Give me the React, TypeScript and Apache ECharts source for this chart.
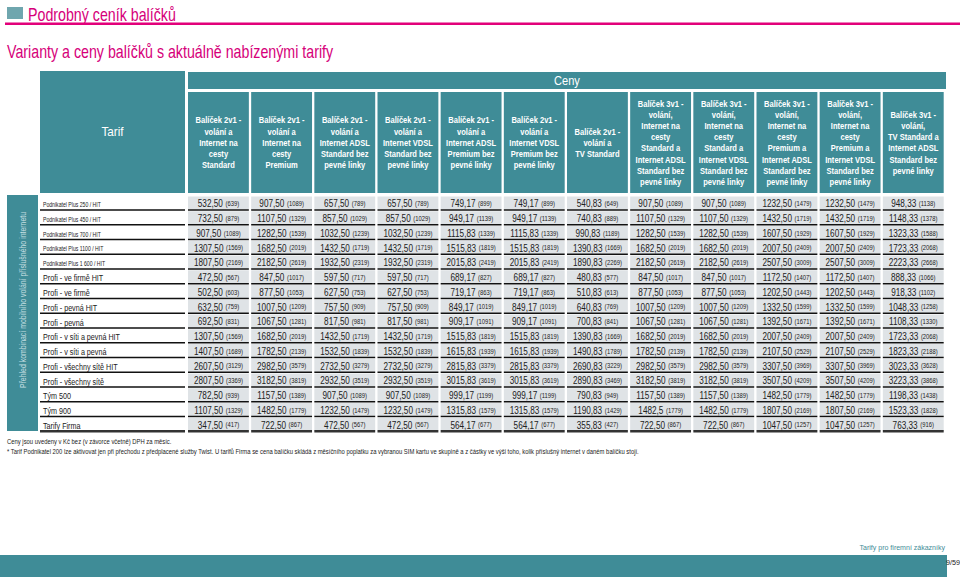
import React, { useEffect, useRef } from "react";
import * as echarts from "echarts";

const FONT = "'Liberation Sans', Arial, sans-serif";
const TEAL = "#3f8c97";
const MAGENTA = "#d6007a";

const columnHeaders = [
  "Balíček 2v1 -\nvolání a\nInternet na\ncesty\nStandard",
  "Balíček 2v1 -\nvolání a\nInternet na\ncesty\nPremium",
  "Balíček 2v1 -\nvolání a\nInternet ADSL\nStandard bez\npevné linky",
  "Balíček 2v1 -\nvolání a\nInternet VDSL\nStandard bez\npevné linky",
  "Balíček 2v1 -\nvolání a\nInternet ADSL\nPremium bez\npevné linky",
  "Balíček 2v1 -\nvolání a\nInternet VDSL\nPremium bez\npevné linky",
  "Balíček 2v1 -\nvolání a\nTV Standard",
  "Balíček 3v1 -\nvolání,\nInternet na\ncesty\nStandard a\nInternet ADSL\nStandard bez\npevné linky",
  "Balíček 3v1 -\nvolání,\nInternet na\ncesty\nStandard a\nInternet VDSL\nStandard bez\npevné linky",
  "Balíček 3v1 -\nvolání,\nInternet na\ncesty\nPremium a\nInternet ADSL\nStandard bez\npevné linky",
  "Balíček 3v1 -\nvolání,\nInternet na\ncesty\nPremium a\nInternet VDSL\nStandard bez\npevné linky",
  "Balíček 3v1 -\nvolání,\nTV Standard a\nInternet ADSL\nStandard bez\npevné linky",
];

const tariffs = [
  "Podnikatel Plus 250 / HIT",
  "Podnikatel Plus 450 / HIT",
  "Podnikatel Plus 700 / HIT",
  "Podnikatel Plus 1100 / HIT",
  "Podnikatel Plus 1 600 / HIT",
  "Profi - ve firmě HIT",
  "Profi - ve firmě",
  "Profi - pevná HIT",
  "Profi - pevná",
  "Profi - v síti a pevná HIT",
  "Profi - v síti a pevná",
  "Profi - všechny sítě HIT",
  "Profi - všechny sítě",
  "Tým 500",
  "Tým 900",
  "Tarify Firma",
];

// net prices (bez DPH) as printed, per tariff row
const netPodnikatel250 = ["532,50", "907,50", "657,50", "657,50", "749,17", "749,17", "540,83", "907,50", "907,50", "1232,50", "1232,50", "948,33"];
const netPodnikatel450 = ["732,50", "1107,50", "857,50", "857,50", "949,17", "949,17", "740,83", "1107,50", "1107,50", "1432,50", "1432,50", "1148,33"];
const netPodnikatel700 = ["907,50", "1282,50", "1032,50", "1032,50", "1115,83", "1115,83", "990,83", "1282,50", "1282,50", "1607,50", "1607,50", "1323,33"];
const netPodnikatel1100 = ["1307,50", "1682,50", "1432,50", "1432,50", "1515,83", "1515,83", "1390,83", "1682,50", "1682,50", "2007,50", "2007,50", "1723,33"];
const netPodnikatel1600 = ["1807,50", "2182,50", "1932,50", "1932,50", "2015,83", "2015,83", "1890,83", "2182,50", "2182,50", "2507,50", "2507,50", "2223,33"];
const netFirmaHit = ["472,50", "847,50", "597,50", "597,50", "689,17", "689,17", "480,83", "847,50", "847,50", "1172,50", "1172,50", "888,33"];
const netFirma = ["502,50", "877,50", "627,50", "627,50", "719,17", "719,17", "510,83", "877,50", "877,50", "1202,50", "1202,50", "918,33"];
const netPevnaHit = ["632,50", "1007,50", "757,50", "757,50", "849,17", "849,17", "640,83", "1007,50", "1007,50", "1332,50", "1332,50", "1048,33"];
const netPevna = ["692,50", "1067,50", "817,50", "817,50", "909,17", "909,17", "700,83", "1067,50", "1067,50", "1392,50", "1392,50", "1108,33"];
const netSitPevnaHit = ["1307,50", "1682,50", "1432,50", "1432,50", "1515,83", "1515,83", "1390,83", "1682,50", "1682,50", "2007,50", "2007,50", "1723,33"];
const netSitPevna = ["1407,50", "1782,50", "1532,50", "1532,50", "1615,83", "1615,83", "1490,83", "1782,50", "1782,50", "2107,50", "2107,50", "1823,33"];
const netVsechnyHit = ["2607,50", "2982,50", "2732,50", "2732,50", "2815,83", "2815,83", "2690,83", "2982,50", "2982,50", "3307,50", "3307,50", "3023,33"];
const netVsechny = ["2807,50", "3182,50", "2932,50", "2932,50", "3015,83", "3015,83", "2890,83", "3182,50", "3182,50", "3507,50", "3507,50", "3223,33"];
const netTym500 = ["782,50", "1157,50", "907,50", "907,50", "999,17", "999,17", "790,83", "1157,50", "1157,50", "1482,50", "1482,50", "1198,33"];
const netTym900 = ["1107,50", "1482,50", "1232,50", "1232,50", "1315,83", "1315,83", "1190,83", "1482,5", "1482,50", "1807,50", "1807,50", "1523,33"];
const netTarifyFirma = ["347,50", "722,50", "472,50", "472,50", "564,17", "564,17", "355,83", "722,50", "722,50", "1047,50", "1047,50", "763,33"];

// gross prices (s DPH), per tariff row
const grossPodnikatel250 = [639, 1089, 789, 789, 899, 899, 649, 1089, 1089, 1479, 1479, 1138];
const grossPodnikatel450 = [879, 1329, 1029, 1029, 1139, 1139, 889, 1329, 1329, 1719, 1719, 1378];
const grossPodnikatel700 = [1089, 1539, 1239, 1239, 1339, 1339, 1189, 1539, 1539, 1929, 1929, 1588];
const grossPodnikatel1100 = [1569, 2019, 1719, 1719, 1819, 1819, 1669, 2019, 2019, 2409, 2409, 2068];
const grossPodnikatel1600 = [2169, 2619, 2319, 2319, 2419, 2419, 2269, 2619, 2619, 3009, 3009, 2668];
const grossFirmaHit = [567, 1017, 717, 717, 827, 827, 577, 1017, 1017, 1407, 1407, 1066];
const grossFirma = [603, 1053, 753, 753, 863, 863, 613, 1053, 1053, 1443, 1443, 1102];
const grossPevnaHit = [759, 1209, 909, 909, 1019, 1019, 769, 1209, 1209, 1599, 1599, 1258];
const grossPevna = [831, 1281, 981, 981, 1091, 1091, 841, 1281, 1281, 1671, 1671, 1330];
const grossSitPevnaHit = [1569, 2019, 1719, 1719, 1819, 1819, 1669, 2019, 2019, 2409, 2409, 2068];
const grossSitPevna = [1689, 2139, 1839, 1839, 1939, 1939, 1789, 2139, 2139, 2529, 2529, 2188];
const grossVsechnyHit = [3129, 3579, 3279, 3279, 3379, 3379, 3229, 3579, 3579, 3969, 3969, 3628];
const grossVsechny = [3369, 3819, 3519, 3519, 3619, 3619, 3469, 3819, 3819, 4209, 4209, 3868];
const grossTym500 = [939, 1389, 1089, 1089, 1199, 1199, 949, 1389, 1389, 1779, 1779, 1438];
const grossTym900 = [1329, 1779, 1479, 1479, 1579, 1579, 1429, 1779, 1779, 2169, 2169, 1828];
const grossTarifyFirma = [417, 867, 567, 567, 677, 677, 427, 867, 867, 1257, 1257, 916];

const netRows = [
  netPodnikatel250, netPodnikatel450, netPodnikatel700, netPodnikatel1100, netPodnikatel1600,
  netFirmaHit, netFirma, netPevnaHit, netPevna, netSitPevnaHit, netSitPevna,
  netVsechnyHit, netVsechny, netTym500, netTym900, netTarifyFirma,
];
const grossRows = [
  grossPodnikatel250, grossPodnikatel450, grossPodnikatel700, grossPodnikatel1100, grossPodnikatel1600,
  grossFirmaHit, grossFirma, grossPevnaHit, grossPevna, grossSitPevnaHit, grossSitPevna,
  grossVsechnyHit, grossVsechny, grossTym500, grossTym900, grossTarifyFirma,
];

const footnote1 = "Ceny jsou uvedeny v Kč bez (v závorce včetně) DPH za měsíc.";
const footnote2 =
  "* Tarif Podnikatel 200 lze aktivovat jen při přechodu z předplacené služby Twist. U tarifů Firma se cena balíčku skládá z měsíčního poplatku za vybranou SIM kartu ve skupině a z částky ve výši toho, kolik příslušný internet v daném balíčku stojí.";

export default function App() {
  const ref = useRef<HTMLDivElement>(null);

  useEffect(() => {
    if (!ref.current) return;
    const chart = echarts.init(ref.current, null, { renderer: "svg" });

    const cellData: any[] = [];
    netRows.forEach((row, r) => {
      row.forEach((net, c) => {
        cellData.push([c, r, parseFloat(net.replace(",", ".")), grossRows[r][c], net]);
      });
    });
    const headerData = columnHeaders.map((_, i) => [i, 0]);
    const rowLabelData = tariffs.map((_, i) => [0, i]);
    const lastRow = tariffs.length - 1;

    const txt = (x: number, y: number, text: string, size: number, fill: string, align: string, scale: number, extra: any = {}) => ({
      type: "text",
      x,
      y,
      scaleX: scale,
      ...extra,
      style: { text, fontFamily: FONT, fontSize: size, fill, align, verticalAlign: "middle" },
    });

    const option: any = {
      animation: false,
      backgroundColor: "#ffffff",
      textStyle: { fontFamily: FONT },
      grid: { left: 188, right: 14, top: 196, height: 236 },
      xAxis: {
        type: "category",
        data: columnHeaders,
        show: false,
      },
      yAxis: {
        type: "category",
        data: tariffs,
        inverse: true,
        axisLine: { show: false },
        axisTick: { show: false },
        splitLine: { show: false },
        axisLabel: { show: false },
      },
      graphic: {
        elements: [
          { type: "rect", shape: { x: 7, y: 7, width: 16, height: 12 }, style: { fill: "#6fa6ae" } },
          txt(28, 14, "Podrobný ceník balíčků", 18, MAGENTA, "left", 0.79),
          { type: "rect", shape: { x: 5, y: 22.5, width: 955, height: 2.5 }, style: { fill: "#e2007a" } },
          txt(7, 51, "Varianty a ceny balíčků s aktuálně nabízenými tarify", 18, MAGENTA, "left", 0.79),
          { type: "rect", shape: { x: 40, y: 71, width: 145, height: 122 }, style: { fill: TEAL } },
          txt(112.5, 132, "Tarif", 13, "#ffffff", "center", 0.9),
          { type: "rect", shape: { x: 188, y: 72, width: 758, height: 17 }, style: { fill: TEAL } },
          txt(567, 80.5, "Ceny", 13, "#ffffff", "center", 0.85),
          { type: "rect", shape: { x: 7, y: 195, width: 31, height: 236 }, style: { fill: TEAL } },
          txt(23, 300, "Přehled kombinací mobilního volání příslušného internetu", 9.5, "#c6dfe2", "center", 0.73, { rotation: Math.PI / 2 }),
          txt(7, 441, footnote1, 7, "#222222", "left", 0.84),
          txt(7, 451, footnote2, 7, "#222222", "left", 0.84),
          txt(945, 547, "Tarify pro firemní zákazníky", 8, TEAL, "right", 0.88),
          { type: "rect", shape: { x: 0, y: 555, width: 947, height: 22 }, style: { fill: TEAL } },
          txt(960, 562, "9/59", 8, "#222222", "right", 0.9),
        ],
      },
      series: [
        {
          type: "custom",
          name: "header",
          data: headerData,
          encode: { x: 0, y: 1 },
          silent: true,
          renderItem: (params: any, api: any) => {
            const p = api.coord([api.value(0), 0]);
            const s = api.size([1, 1]);
            const x0 = p[0] - s[0] / 2;
            const w = s[0] - 2.3;
            return {
              type: "group",
              children: [
                { type: "rect", shape: { x: x0, y: 92, width: w, height: 101 }, style: { fill: TEAL } },
                {
                  type: "text",
                  x: x0 + w / 2,
                  y: 142.5,
                  scaleX: 0.84,
                  style: {
                    text: columnHeaders[api.value(0)],
                    align: "center", verticalAlign: "middle",
                    fontFamily: FONT, fontSize: 9, fontWeight: "bold", lineHeight: 11.2, fill: "#ffffff",
                  },
                },
              ],
            };
          },
        },
        {
          type: "custom",
          name: "rowLabels",
          data: rowLabelData,
          encode: { x: 0, y: 1 },
          silent: true,
          renderItem: (params: any, api: any) => {
            const r = api.value(1);
            const p = api.coord([0, r]);
            const s = api.size([1, 1]);
            const yb = p[1] + s[1] / 2 - 0.8;
            const label = tariffs[r];
            const small = label.startsWith("Podnikatel");
            return {
              type: "group",
              children: [
                {
                  type: "line",
                  shape: { x1: 40, y1: yb, x2: 185, y2: yb },
                  style: { stroke: r === lastRow ? "#333" : "#111", lineWidth: r === lastRow ? 2.5 : 1.4 },
                },
                {
                  type: "text",
                  x: 43,
                  y: p[1] + 1.5,
                  scaleX: small ? 0.79 : 0.8,
                  style: {
                    text: label,
                    align: "left", verticalAlign: "middle",
                    fontFamily: FONT, fontSize: small ? 6.5 : 9, fill: "#222222",
                  },
                },
              ],
            };
          },
        },
        {
          type: "custom",
          name: "prices",
          data: cellData,
          encode: { x: 0, y: 1 },
          silent: true,
          renderItem: (params: any, api: any) => {
            const c = api.value(0);
            const r = api.value(1);
            const p = api.coord([c, r]);
            const s = api.size([1, 1]);
            const x0 = p[0] - s[0] / 2;
            const w = s[0] - 2.3;
            const y0 = p[1] - s[1] / 2;
            const h = s[1];
            const item = cellData[params.dataIndex];
            const last = r === lastRow;
            return {
              type: "group",
              children: [
                { type: "rect", shape: { x: x0, y: y0 + 0.6, width: w, height: h - 1.8 }, style: { fill: "#dfe3e6" } },
                {
                  type: "line",
                  shape: { x1: x0, y1: y0 + h - 0.8, x2: x0 + w, y2: y0 + h - 0.8 },
                  style: { stroke: last ? "#333" : "#111", lineWidth: last ? 2.5 : 1.4 },
                },
                {
                  type: "text",
                  x: x0 + w / 2,
                  y: p[1],
                  scaleX: 0.78,
                  style: {
                    text: `{a|${item[4]}} {b|(${item[3]})}`,
                    align: "center", verticalAlign: "middle",
                    rich: {
                      a: { fontFamily: FONT, fontSize: 10.5, fill: "#222222" },
                      b: { fontFamily: FONT, fontSize: 7.5, fill: "#222222" },
                    },
                  },
                },
              ],
            };
          },
        },
      ],
    };

    chart.setOption(option);
    return () => chart.dispose();
  }, []);

  return (
    <div
      ref={ref}
      style={{ position: "fixed", left: 0, top: 0, width: 960, height: 577 }}
    />
  );
}
